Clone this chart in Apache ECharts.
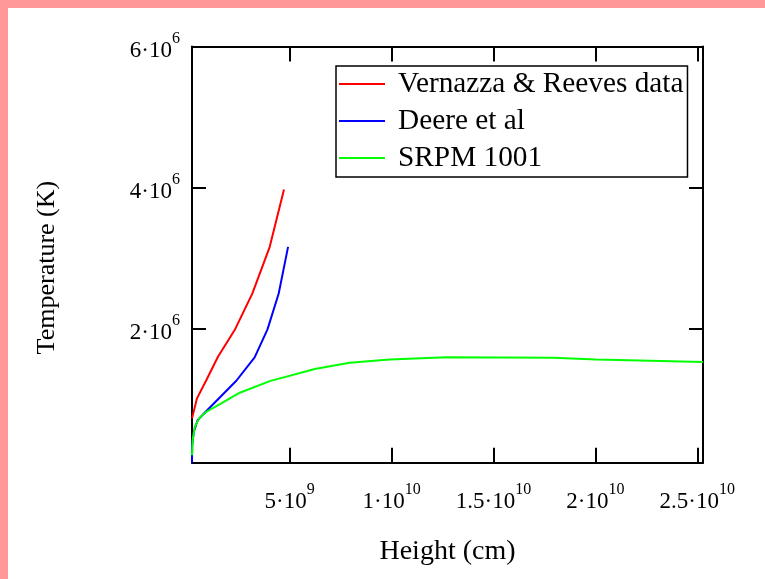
<!DOCTYPE html>
<html>
<head>
<meta charset="utf-8">
<script src="https://cdn.jsdelivr.net/npm/echarts@6/dist/echarts.min.js"></script>
<style>
html,body{margin:0;padding:0;background:#fff;}
#chart{width:765px;height:579px;}
</style>
</head>
<body>
<div id="chart"></div>
<script>
// ---- data (height in cm, temperature in K) ----
var vernazzaHeight = [2.06e8, 4.51e8, 9.13e8, 1.48e9, 2.30e9, 3.17e9, 4.02e9, 4.72e9];
var vernazzaTemp   = [0.723e6, 1.007e6, 1.267e6, 1.597e6, 1.976e6, 2.496e6, 3.157e6, 3.972e6];

var deereHeight = [2.06e8, 2.16e8, 2.9e8, 4.86e8, 8.29e8, 2.38e9, 3.28e9, 3.91e9, 4.46e9, 4.92e9];
var deereTemp   = [0.094e6, 0.345e6, 0.529e6, 0.699e6, 0.803e6, 1.257e6, 1.589e6, 1.986e6, 2.496e6, 3.157e6];

var srpmHeight = [2.06e8, 2.4e8, 3.39e8, 5.5e8, 9.13e8, 1.6e9, 2.55e9, 4.02e9, 6.23e9, 7.94e9, 9.91e9, 1.269e10, 1.792e10, 2.005e10, 2.528e10];
var srpmTemp   = [0.2e6, 0.42e6, 0.6e6, 0.72e6, 0.817e6, 0.93e6, 1.087e6, 1.252e6, 1.423e6, 1.512e6, 1.56e6, 1.589e6, 1.583e6, 1.56e6, 1.523e6];

var seriesNames = ['Vernazza & Reeves data', 'Deere et al', 'SRPM 1001'];

var xTicks = [5e9, 1e10, 1.5e10, 2e10, 2.5e10];
var xTickMantissa = ['5', '1', '1.5', '2', '2.5'];
var xTickExponent = ['9', '10', '10', '10', '10'];

var yTicks = [2e6, 4e6, 6e6];
var yTickMantissa = ['2', '4', '6'];
var yTickExponent = ['6', '6', '6'];

var xMin = 2.06e8, xMax = 2.528e10;
var yMin = 0.094e6, yMax = 6e6;

function pairs(xs, ys) { return xs.map(function (x, i) { return [x, ys[i]]; }); }

var FONT = '"Liberation Serif", "Times New Roman", serif';

function tickFormatter(ticks, mant, expo) {
  return function (v) {
    for (var i = 0; i < ticks.length; i++) {
      if (Math.abs(v - ticks[i]) < ticks[i] * 1e-6) {
        return '{b|' + mant[i] + '\u00b710}{s|' + expo[i] + '}';
      }
    }
    return '';
  };
}

var richLabel = {
  b: { fontFamily: FONT, fontSize: 23, lineHeight: 32, verticalAlign: 'bottom', color: '#000' },
  s: { fontFamily: FONT, fontSize: 16, lineHeight: 14, verticalAlign: 'top', color: '#000' }
};

var axisLineStyle = { show: true, lineStyle: { color: '#000', width: 2 } };
var tickLine = { color: '#000', width: 2 };

var chart = echarts.init(document.getElementById('chart'), null, { renderer: 'canvas' });

chart.setOption({
  animation: false,
  backgroundColor: '#fff',
  graphic: [
    { type: 'rect', shape: { x: 0, y: 0, width: 765, height: 8 }, style: { fill: '#ff9999' }, z: 100 },
    { type: 'rect', shape: { x: 0, y: 0, width: 8, height: 579 }, style: { fill: '#ff9999' }, z: 100 }
  ],
  grid: { left: 192, top: 46.5, width: 511, height: 416.2, containLabel: false },
  legend: {
    orient: 'vertical',
    left: 336,
    top: 66,
    padding: [3, 4, 4, 3],
    itemGap: 7,
    itemWidth: 46,
    itemHeight: 2,
    icon: 'rect',
    borderColor: '#000',
    borderWidth: 1.5,
    backgroundColor: '#fff',
    textStyle: { fontFamily: FONT, fontSize: 29.3, lineHeight: 30, color: '#000', padding: [0, 0, 0, 8] },
    data: seriesNames
  },
  xAxis: [
    {
      type: 'value', position: 'bottom', min: xMin, max: xMax,
      name: 'Height (cm)', nameLocation: 'middle', nameGap: 75,
      nameTextStyle: { fontFamily: FONT, fontSize: 28, color: '#000' },
      axisLine: axisLineStyle,
      axisTick: { show: true, inside: true, length: 15, customValues: xTicks, lineStyle: tickLine },
      axisLabel: { show: true, margin: 19, customValues: xTicks, formatter: tickFormatter(xTicks, xTickMantissa, xTickExponent), rich: richLabel },
      splitLine: { show: false }
    },
    {
      type: 'value', position: 'top', min: xMin, max: xMax,
      axisLine: axisLineStyle,
      axisTick: { show: true, inside: true, length: 15, customValues: xTicks, lineStyle: tickLine },
      axisLabel: { show: false },
      splitLine: { show: false }
    }
  ],
  yAxis: [
    {
      type: 'value', position: 'left', min: yMin, max: yMax,
      name: 'Temperature (K)', nameLocation: 'middle', nameGap: 132, nameRotate: 90,
      nameTextStyle: { fontFamily: FONT, fontSize: 26, color: '#000', padding: [0, 26, 0, 0] },
      axisLine: axisLineStyle,
      axisTick: { show: true, inside: true, length: 14, customValues: yTicks, lineStyle: tickLine },
      axisLabel: { show: true, margin: 12, customValues: yTicks, formatter: tickFormatter(yTicks, yTickMantissa, yTickExponent), rich: richLabel },
      splitLine: { show: false }
    },
    {
      type: 'value', position: 'right', min: yMin, max: yMax,
      axisLine: axisLineStyle,
      axisTick: { show: true, inside: true, length: 14, customValues: yTicks, lineStyle: tickLine },
      axisLabel: { show: false },
      splitLine: { show: false }
    }
  ],
  series: [
    { name: seriesNames[0], type: 'line', data: pairs(vernazzaHeight, vernazzaTemp), showSymbol: false, symbol: 'none',
      lineStyle: { color: '#ff0000', width: 2 }, itemStyle: { color: '#ff0000' } },
    { name: seriesNames[1], type: 'line', data: pairs(deereHeight, deereTemp), showSymbol: false, symbol: 'none',
      lineStyle: { color: '#0000ff', width: 2 }, itemStyle: { color: '#0000ff' } },
    { name: seriesNames[2], type: 'line', data: pairs(srpmHeight, srpmTemp), showSymbol: false, symbol: 'none',
      lineStyle: { color: '#00ff00', width: 2 }, itemStyle: { color: '#00ff00' } }
  ]
});
</script>
</body>
</html>
